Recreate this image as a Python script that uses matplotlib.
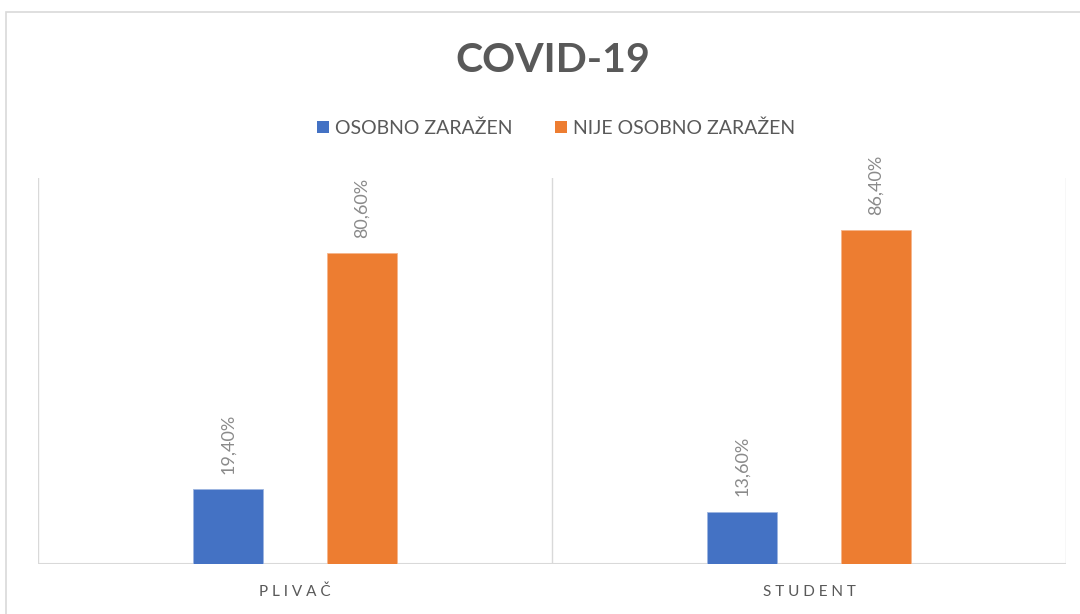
import matplotlib
matplotlib.use("Agg")
import matplotlib.pyplot as plt
from matplotlib.patches import Patch, Rectangle

categories = ["PLIVAČ", "STUDENT"]
series_names = ["OSOBNO ZARAŽEN", "NIJE OSOBNO ZARAŽEN"]
osobno = [19.4, 13.6]
nije = [80.6, 86.4]
colors = ["#4472C4", "#ED7D31"]
title = "COVID-19"

plt.rcParams['font.family'] = ['Lato', 'DejaVu Sans']
fig = plt.figure(figsize=(10.8, 6.14), dpi=100)
fig.patches.append(Rectangle((6/1080, -0.05), 1.2, 1 - 12/614 + 0.05, transform=fig.transFigure,
                             fill=False, edgecolor="#d9d9d9", linewidth=1.2))
ax = fig.add_axes([38/1080, 50/614, 1028/1080, 386/614])

x = list(range(len(categories)))
w = 0.136
off = 0.13
b1 = ax.bar([i - off for i in x], osobno, w, color=colors[0], edgecolor="#9db5e0", linewidth=0.6)
b2 = ax.bar([i + off for i in x], nije, w, color=colors[1], edgecolor="#f5b58c", linewidth=0.6)

fmt = lambda v: f"{v:.2f}%".replace(".", ",")
for bars in (b1, b2):
    ax.bar_label(bars, labels=[fmt(b.get_height()) for b in bars], rotation=90, padding=11,
                 color="#8a8a8a", fontsize=13)

ax.set_xlim(-0.5, len(categories) - 0.5)
ax.set_ylim(0, 100)
for xv in [-0.5, 0.5, 1.5]:
    ax.axvline(xv, color="#d9d9d9", linewidth=1, zorder=0)
for s in ax.spines.values():
    s.set_visible(False)
ax.axhline(0, color="#d9d9d9", linewidth=1.5, zorder=0)
ax.set_yticks([])
ax.set_xticks(x)
ax.set_xticklabels([" ".join(c) for c in categories], color="#595959", fontsize=11)
ax.tick_params(axis="x", length=0, pad=15)

fig.text(553/1080, 1 - 60/614, title, ha="center", va="center", fontsize=29.5,
         fontweight="bold", color="#595959")

handles = [Patch(facecolor=c) for c in colors]
fig.legend(handles, series_names, loc="center", bbox_to_anchor=(556/1080, 1 - 128/614), ncol=2,
           frameon=False, handlelength=0.6, handleheight=0.6, handletextpad=0.3, columnspacing=2.2,
           fontsize=14, labelcolor="#595959")

fig.savefig("out.png", dpi=100)
